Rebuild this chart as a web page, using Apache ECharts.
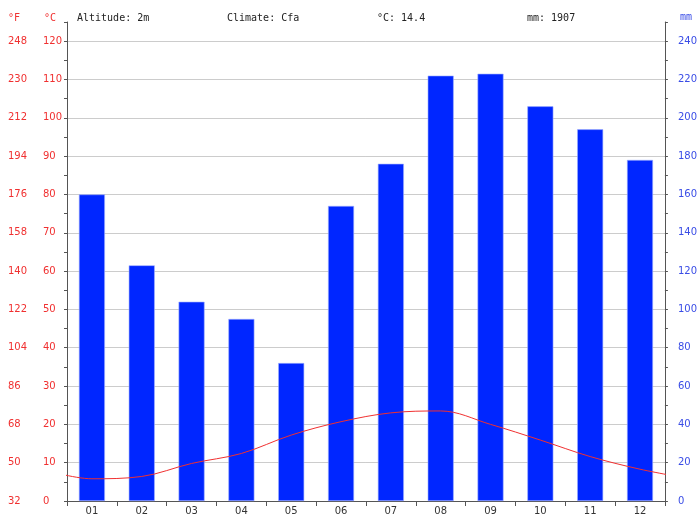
<!DOCTYPE html>
<html>
<head>
<meta charset="utf-8">
<script src="https://cdn.jsdelivr.net/npm/echarts@6/dist/echarts.min.js"></script>
<style>html,body{margin:0;padding:0;background:#fff;}#c{width:700px;height:517px;}</style>
</head>
<body>
<div id="c"></div>
<script>
const months = ['01','02','03','04','05','06','07','08','09','10','11','12'];
const precipitation = [160, 123, 104, 95, 72, 154, 176, 222, 223, 206, 194, 178];
const temperature = [5.8, 6.4, 9.8, 12.4, 17.2, 20.7, 23.0, 23.5, 20.0, 15.9, 11.6, 8.3];
const fahrenheitLabels = ['32','50','68','86','104','122','140','158','176','194','212','230','248'];
const headerTexts = ['Altitude: 2m', 'Climate: Cfa', '°C: 14.4', 'mm: 1907'];

// line points at category centres, wrapped with Dec before Jan and Jan after Dec (clipped to plot)
const tempPoints = [[-0.5, temperature[11]]]
  .concat(temperature.map((t, i) => [i + 0.5, t]))
  .concat([[12.5, temperature[0]]]);

const RED = '#f03030', BLUE = '#3a4de6', AXIS = '#555';
const chart = echarts.init(document.getElementById('c'));
chart.setOption({
  animation: false,
  grid: {left: 67, right: 33, top: 22, bottom: 16, containLabel: false},
  graphic: [
    {type: 'text', left: 77, top: 13, style: {text: headerTexts[0], font: '10px "DejaVu Sans Mono"', fill: '#222'}},
    {type: 'text', left: 227, top: 13, style: {text: headerTexts[1], font: '10px "DejaVu Sans Mono"', fill: '#222'}},
    {type: 'text', left: 377, top: 13, style: {text: headerTexts[2], font: '10px "DejaVu Sans Mono"', fill: '#222'}},
    {type: 'text', left: 527, top: 13, style: {text: headerTexts[3], font: '10px "DejaVu Sans Mono"', fill: '#222'}},
    {type: 'text', left: 8, top: 13, style: {text: '°F', font: '10px "DejaVu Sans Mono"', fill: RED}},
    {type: 'text', left: 44, top: 13, style: {text: '°C', font: '10px "DejaVu Sans Mono"', fill: RED}},
    {type: 'text', left: 680, top: 12, style: {text: 'mm', font: '10px "DejaVu Sans Mono"', fill: BLUE}}
  ],
  xAxis: [
    {type: 'category', data: months, boundaryGap: true,
     axisLine: {lineStyle: {color: AXIS, width: 1}},
     axisTick: {show: true, length: 5, alignWithLabel: false, lineStyle: {color: AXIS}},
     axisLabel: {color: '#333', fontFamily: 'DejaVu Sans', fontSize: 10, margin: 5},
     splitLine: {show: false}},
    {type: 'value', min: 0, max: 12, show: false}
  ],
  yAxis: [
    {type: 'value', position: 'left', min: 0, max: 125, interval: 5,
     axisLine: {show: true, lineStyle: {color: AXIS}},
     axisTick: {show: true, length: 3, lineStyle: {color: AXIS}},
     axisLabel: {align: 'left', margin: 24, color: RED, fontFamily: 'DejaVu Sans', fontSize: 10,
                 formatter: v => (v % 10 === 0 && v <= 120) ? String(v) : ''},
     splitLine: {show: false}},
    {type: 'value', position: 'left', min: 0, max: 125, interval: 10,
     axisLine: {show: false}, axisTick: {show: false},
     axisLabel: {align: 'left', margin: 59, color: RED, fontFamily: 'DejaVu Sans', fontSize: 10,
                 showMaxLabel: false,
                 formatter: v => (v % 10 === 0 && v <= 120) ? fahrenheitLabels[v / 10] : ''},
     splitLine: {show: false}},
    {type: 'value', position: 'right', min: 0, max: 250, interval: 10,
     axisLine: {show: true, lineStyle: {color: AXIS}},
     axisTick: {show: true, length: 3, lineStyle: {color: AXIS}},
     axisLabel: {align: 'left', margin: 13, color: BLUE, fontFamily: 'DejaVu Sans', fontSize: 10,
                 formatter: v => (v % 20 === 0 && v <= 240) ? String(v) : ''},
     splitLine: {show: false}},
    {type: 'value', position: 'left', min: 0, max: 125, interval: 10, show: true,
     axisLine: {show: false}, axisTick: {show: false}, axisLabel: {show: false},
     splitLine: {show: true, showMaxLine: false, showMinLine: false, lineStyle: {color: '#cccccc', width: 1}}}
  ],
  series: [
    {type: 'bar', data: precipitation, xAxisIndex: 0, yAxisIndex: 2, barWidth: 26,
     itemStyle: {color: '#0026ff', borderColor: '#9fb0ff', borderWidth: 0.6}, z: 2},
    {type: 'line', data: tempPoints, xAxisIndex: 1, yAxisIndex: 0, smooth: 0.35, showSymbol: false,
     clip: true, lineStyle: {color: RED, width: 1}, z: 3}
  ]
});
</script>
</body>
</html>
